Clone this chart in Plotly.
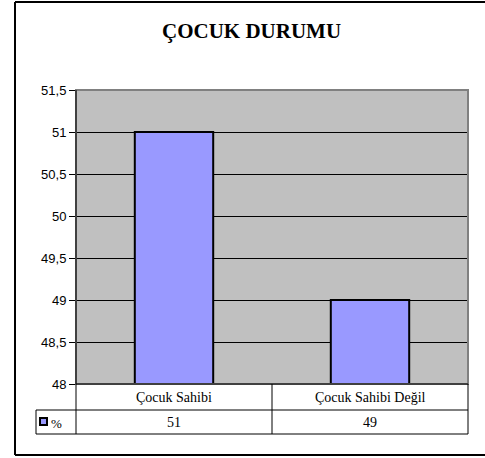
import plotly.graph_objects as go

categories = ["Çocuk Sahibi", "Çocuk Sahibi Değil"]
values = [51, 49]
series_name = "%"
title_text = "ÇOCUK DURUMU"

W, H = 485, 458
PL, PR, PT, PB = 76, 468, 90, 384  # plot area in pixels


def px(x):
    return (x - PL) / (PR - PL)


def py(y):
    return (PB - y) / (PB - PT)


fig = go.Figure()
fig.add_trace(go.Bar(
    x=categories, y=values, name=series_name,
    marker=dict(color="#9999FF", line=dict(color="black", width=2)),
    showlegend=False,
))

shapes = []
# outer chart border: top, left, bottom (right edge falls outside the view)
for x0, y0, x1, y1 in [(15, 2, 490, 2), (15, 2, 15, 455), (15, 455, 490, 455)]:
    shapes.append(dict(type="line", xref="paper", yref="paper",
                       x0=px(x0), x1=px(x1), y0=py(y0), y1=py(y1),
                       line=dict(color="black", width=2), layer="below"))
# plot area border
shapes.append(dict(type="rect", xref="paper", yref="paper",
                   x0=0, x1=1, y0=0, y1=1,
                   line=dict(color="#808080", width=2), layer="above"))
# left axis line overlay
shapes.append(dict(type="line", xref="paper", yref="paper",
                   x0=0, x1=0, y0=0, y1=1, line=dict(color="black", width=1)))
# data table lines
tbl_lines = [
    (PL, PB, PR, PB),
    (36, 410, PR, 410),
    (36, 434, PR, 434),
    (36, 410, 36, 434),
    (PL, PB, PL, 434),
    (272, PB, 272, 434),
    (PR, PB, PR, 434),
]
for x0, y0, x1, y1 in tbl_lines:
    shapes.append(dict(type="line", xref="paper", yref="paper",
                       x0=px(x0), x1=px(x1), y0=py(y0), y1=py(y1),
                       line=dict(color="black", width=1)))
# legend key
shapes.append(dict(type="rect", xref="paper", yref="paper",
                   x0=px(40), x1=px(47), y0=py(425), y1=py(418),
                   fillcolor="#9999FF", line=dict(color="black", width=2)))

annotations = []
annotations.append(dict(text="<b>" + title_text + "</b>", xref="paper", yref="paper",
                        x=px(251), y=py(31), showarrow=False,
                        font=dict(family="Liberation Serif", size=21, color="black"),
                        xanchor="center", yanchor="middle"))
col_centers = [174, 370]
for i, (c, v) in enumerate(zip(categories, values)):
    annotations.append(dict(text=c, xref="paper", yref="paper",
                            x=px(col_centers[i]), y=py(397), showarrow=False,
                            font=dict(family="Liberation Serif", size=14, color="black"),
                            xanchor="center", yanchor="middle"))
    annotations.append(dict(text=str(v), xref="paper", yref="paper",
                            x=px(col_centers[i]), y=py(422), showarrow=False,
                            font=dict(family="Liberation Serif", size=14, color="black"),
                            xanchor="center", yanchor="middle"))
annotations.append(dict(text=series_name, xref="paper", yref="paper",
                        x=px(49), y=py(423), showarrow=False,
                        font=dict(family="Liberation Serif", size=13, color="black"),
                        xanchor="left", yanchor="middle"))

fig.update_layout(
    width=W, height=H,
    margin=dict(l=PL, r=W - PR, t=PT, b=H - PB, pad=0),
    paper_bgcolor="white", plot_bgcolor="#C0C0C0",
    separators=",.",
    bargap=0.6,
    xaxis=dict(showticklabels=False, ticks="", showgrid=False, zeroline=False,
               showline=False),
    yaxis=dict(range=[48, 51.5], dtick=0.5, tick0=48, showgrid=True,
               gridcolor="black", gridwidth=1, zeroline=False,
               showline=True, linecolor="black", linewidth=1,
               ticks="outside", ticklen=6, tickcolor="black",
               tickfont=dict(family="Liberation Sans", size=13, color="black")),
    shapes=shapes, annotations=annotations,
)

fig.write_html("out.html", config={"displayModeBar": False},
               post_script=("document.body.style.margin='0';"
                            "document.body.style.overflow='hidden';"
                            "document.documentElement.style.overflow='hidden';"))
